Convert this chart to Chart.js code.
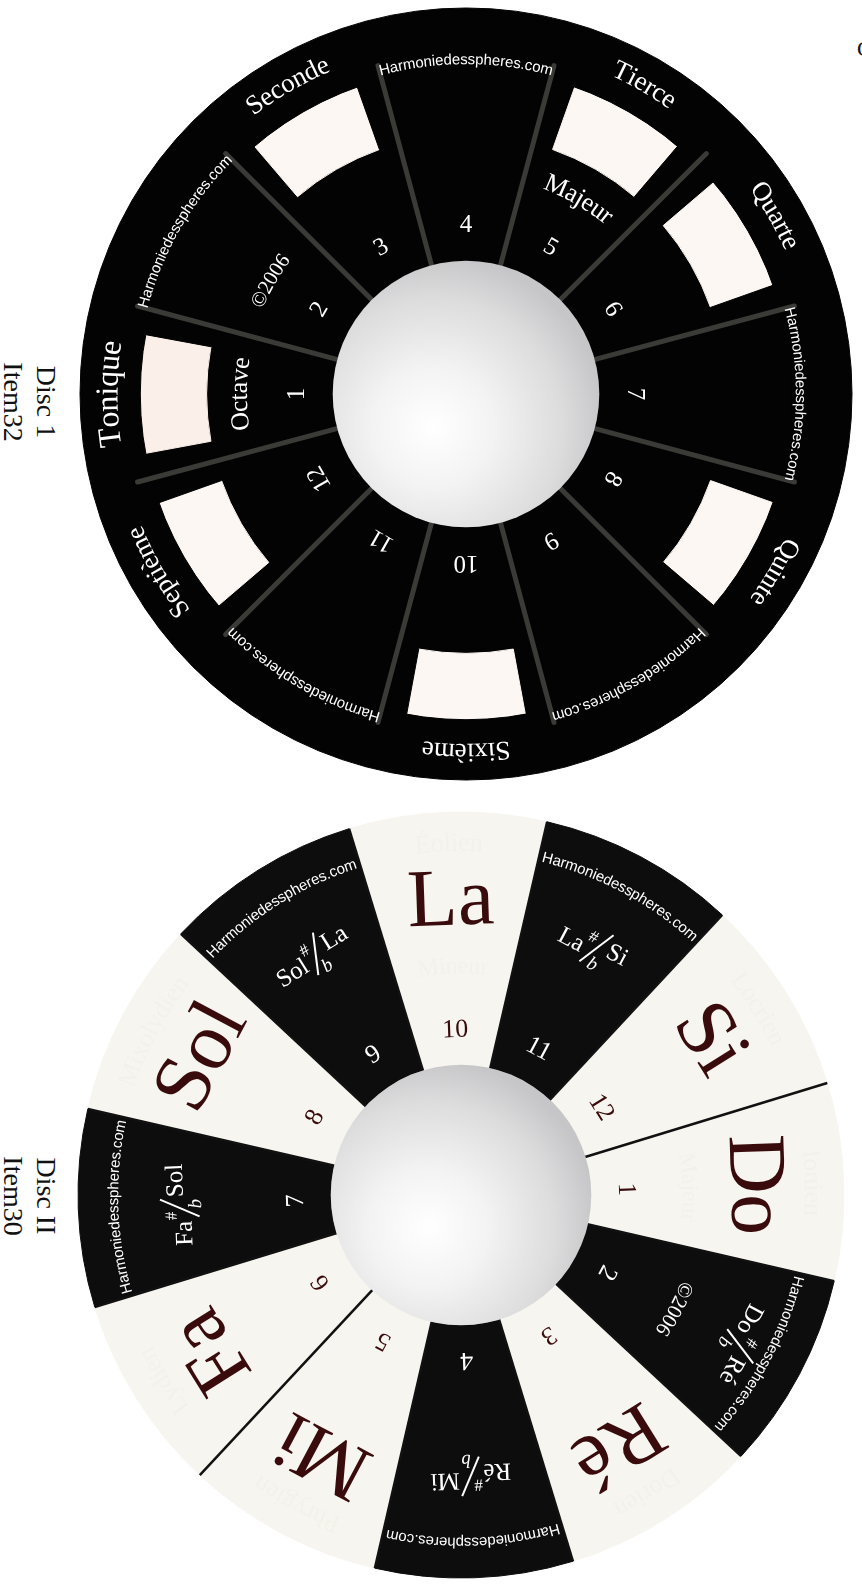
<!DOCTYPE html>
<html>
<head>
<meta charset="utf-8">
<script src="https://cdn.jsdelivr.net/npm/chart.js@4.4.1/dist/chart.umd.min.js"></script>
<style>
  body { margin: 0; background: #fff; width: 862px; height: 1585px; overflow: hidden; position: relative; font-family: "Liberation Serif", serif; }
  .disc { position: absolute; width: 780px; height: 780px; }
  #disc1 { left: 76px; top: 4px; }
  #disc2 { left: 71px; top: 805px; }
  .caption { position: absolute; width: 120px; height: 66px; font-size: 28px; line-height: 33px; text-align: center; color: #111; transform: rotate(90deg); }
  #cap1 { left: -30px; top: 369px; }
  #cap2 { left: -30px; top: 1163px; }
  #edge { position: absolute; left: 857px; top: 36px; font-size: 22px; color: #111; }
</style>
</head>
<body>
<div class="caption" id="cap1">Disc 1<br>Item32</div>
<div class="caption" id="cap2">Disc II<br>Item30</div>
<div id="edge">C</div>
<canvas id="disc1" class="disc" width="780" height="780"></canvas>
<canvas id="disc2" class="disc" width="780" height="780"></canvas>
<script>
// disc 1 : intervals
let steps = ["1", "2", "3", "4", "5", "6", "7", "8", "9", "10", "11", "12"];
let segmentValues = [1, 1, 1, 1, 1, 1, 1, 1, 1, 1, 1, 1];
let intervals = ["Tonique", "", "Seconde", "", "Tierce", "Quarte", "", "Quinte", "", "Sixième", "", "Septième"];
let innerWords = ["Octave", "©2006", "", "", "Majeur", "", "", "", "", "", "", ""];
let scaleSteps = [1, 0, 1, 0, 1, 1, 0, 1, 0, 1, 0, 1];
let windowSplit = [0.15, 0.7, 0.15];

// disc 2 : notes
let notes = ["Do", "", "Ré", "", "Mi", "Fa", "", "Sol", "", "La", "", "Si"];
let accidentals = [null, ["Do", "Ré"], null, ["Ré", "Mi"], null, null, ["Fa", "Sol"], null, ["Sol", "La"], null, ["La", "Si"], null];
let modes = ["Ionien", "", "Dorien", "", "Phrygien", "Lydien", "", "Mixolydien", "", "Éolien", "", "Locrien"];
let modeQuality = ["Majeur", "", "", "", "", "", "", "", "", "Mineur", "", ""];
let site = "Harmoniedesspheres.com";

const BLACK = "#030303";
const CREAM = "#fdf7f3";
const NOTE_BG = "#f6f5ef";
const NOTE_BLACK = "#0d0d0d";
const MAROON = "#3a0b0c";
const FAINT = "rgba(210,160,150,0.045)";
const SERIF = "'Liberation Serif', serif";
const SANS = "'Liberation Sans', sans-serif";

function radialText(ctx, txt, cx, cy, r, ang, font, color) {
  ctx.save();
  ctx.translate(cx + r * Math.cos(ang), cy + r * Math.sin(ang));
  ctx.rotate(ang + Math.PI / 2);
  ctx.font = font;
  ctx.fillStyle = color;
  ctx.textAlign = "center";
  ctx.textBaseline = "middle";
  ctx.fillText(txt, 0, 0);
  ctx.restore();
}

function arcText(ctx, txt, cx, cy, r, ang, font, color) {
  ctx.save();
  ctx.font = font;
  ctx.fillStyle = color;
  ctx.textAlign = "center";
  ctx.textBaseline = "middle";
  let chars = Array.from(txt);
  let widths = chars.map(ch => ctx.measureText(ch).width);
  let total = widths.reduce((s, w) => s + w, 0);
  let a = ang - total / 2 / r;
  chars.forEach((ch, i) => {
    let ca = a + widths[i] / 2 / r;
    ctx.save();
    ctx.translate(cx + r * Math.cos(ca), cy + r * Math.sin(ca));
    ctx.rotate(ca + Math.PI / 2);
    ctx.fillText(ch, 0, 0);
    ctx.restore();
    a += widths[i] / r;
  });
  ctx.restore();
}

function accidental(ctx, pair, cx, cy, r, ang) {
  ctx.save();
  ctx.translate(cx + r * Math.cos(ang), cy + r * Math.sin(ang));
  ctx.rotate(ang + Math.PI / 2);
  ctx.fillStyle = "#fff";
  ctx.strokeStyle = "#fff";
  ctx.textBaseline = "alphabetic";
  ctx.textAlign = "left";
  ctx.font = "25px " + SERIF;
  let wl = ctx.measureText(pair[0]).width;
  let wr = ctx.measureText(pair[1]).width;
  let g = 24;
  let x0 = -(wl + g + wr) / 2;
  ctx.fillText(pair[0], x0, 12);
  ctx.fillText(pair[1], x0 + wl + g, 4);
  ctx.font = "17px " + SERIF;
  ctx.fillText("#", x0 + wl + 1, -3);
  ctx.font = "italic 19px " + SERIF;
  ctx.fillText("b", x0 + wl + g - 12, 22);
  ctx.lineWidth = 2;
  ctx.beginPath();
  ctx.moveTo(x0 + wl + 4, 20);
  ctx.lineTo(x0 + wl + g - 2, -19);
  ctx.stroke();
  ctx.restore();
}

function drawHub(ctx, cx, cy, r) {
  let grad = ctx.createRadialGradient(cx - 0.25 * r, cy + 0.25 * r, 0, cx - 0.25 * r, cy + 0.25 * r, 1.3 * r);
  grad.addColorStop(0, "#ffffff");
  grad.addColorStop(0.35, "#f3f3f3");
  grad.addColorStop(0.75, "#dcdcdd");
  grad.addColorStop(1, "#c6c6c8");
  ctx.save();
  ctx.beginPath();
  ctx.arc(cx, cy, r + 0.5, 0, Math.PI * 2);
  ctx.fillStyle = grad;
  ctx.fill();
  ctx.restore();
}

const disc1Deco = {
  id: "disc1Deco",
  beforeDatasetsDraw(chart) {
    // black backing so the ring seams do not show
    const ctx = chart.ctx;
    const arc = chart.getDatasetMeta(0).data[0];
    ctx.save();
    ctx.beginPath();
    ctx.arc(arc.x, arc.y, arc.outerRadius - 1, 0, Math.PI * 2);
    ctx.fillStyle = BLACK;
    ctx.fill();
    ctx.restore();
  },
  afterDatasetsDraw(chart) {
    const ctx = chart.ctx;
    const ring = chart.getDatasetMeta(0).data;
    const core = chart.getDatasetMeta(2).data[0];
    const cx = core.x, cy = core.y;
    const rIn = core.innerRadius, rOut = ring[0].outerRadius;

    ctx.save();
    ctx.strokeStyle = "#3a3a37";
    ctx.lineWidth = 5;
    ctx.lineCap = "round";
    ring.forEach(arc => {
      let t = arc.startAngle;
      ctx.beginPath();
      ctx.moveTo(cx + (rIn - 2) * Math.cos(t), cy + (rIn - 2) * Math.sin(t));
      ctx.lineTo(cx + (rOut - 46) * Math.cos(t), cy + (rOut - 46) * Math.sin(t));
      ctx.stroke();
    });
    ctx.restore();

    drawHub(ctx, cx, cy, rIn);

    ring.forEach((arc, i) => {
      let mid = (arc.startAngle + arc.endAngle) / 2;
      radialText(ctx, steps[i], cx, cy, 169, mid, "25px " + SERIF, "#fff");
      if (intervals[i]) {
        let size = i === 0 ? 32 : 27;
        arcText(ctx, intervals[i], cx, cy, rOut - 29, mid, size + "px " + SERIF, "#fff");
      }
      if (innerWords[i]) {
        let size = innerWords[i] === "©2006" ? 21 : 26;
        arcText(ctx, innerWords[i], cx, cy, 226, mid, size + "px " + SERIF, "#fff");
      }
      if (!scaleSteps[i]) {
        arcText(ctx, site, cx, cy, rOut - 52, mid, "15px " + SANS, "#fff");
      }
    });
  }
};

const disc2Deco = {
  id: "disc2Deco",
  afterDatasetsDraw(chart) {
    const ctx = chart.ctx;
    const ring = chart.getDatasetMeta(0).data;
    const cx = ring[0].x, cy = ring[0].y;
    const rIn = ring[0].innerRadius, rOut = ring[0].outerRadius;

    ctx.save();
    ctx.strokeStyle = "#111";
    ctx.lineWidth = 2.5;
    ring.forEach(arc => {
      let t = arc.startAngle;
      ctx.beginPath();
      ctx.moveTo(cx + rIn * Math.cos(t), cy + rIn * Math.sin(t));
      ctx.lineTo(cx + rOut * Math.cos(t), cy + rOut * Math.sin(t));
      ctx.stroke();
    });
    ctx.restore();

    drawHub(ctx, cx, cy, rIn);

    ring.forEach((arc, i) => {
      let mid = (arc.startAngle + arc.endAngle) / 2;
      let light = notes[i] !== "";
      radialText(ctx, steps[i], cx, cy, 165, mid, "26px " + SERIF, light ? MAROON : "#fff");
      if (light) {
        radialText(ctx, notes[i], cx, cy, 292, mid, "82px " + SERIF, MAROON);
        arcText(ctx, modes[i], cx, cy, rOut - 32, mid, "26px " + SERIF, FAINT);
        if (modeQuality[i]) {
          arcText(ctx, modeQuality[i], cx, cy, 228, mid, "24px " + SERIF, FAINT);
        }
      } else {
        let accR = 282;
        if (i === 1) {
          accR = 318;
          arcText(ctx, "©2006", cx, cy, 242, mid, "21px " + SERIF, "#fff");
        }
        accidental(ctx, accidentals[i], cx, cy, accR, mid);
        arcText(ctx, site, cx, cy, rOut - 36, mid, "15px " + SANS, "#fff");
      }
    });
  }
};

function renderDisc1() {
  let windowValues = [];
  let windowColors = [];
  segmentValues.forEach((v, i) => {
    windowSplit.forEach((part, j) => {
      windowValues.push(v * part);
      if (j === 1 && scaleSteps[i]) {
        windowColors.push(i === 0 ? "#fbefea" : CREAM);
      } else {
        windowColors.push(BLACK);
      }
    });
  });
  let black = segmentValues.map(() => BLACK);

  new Chart(document.getElementById("disc1"), {
    type: "doughnut",
    data: {
      labels: steps,
      datasets: [
        { data: segmentValues, backgroundColor: black, borderColor: black, borderWidth: 1, weight: 60 },
        { data: windowValues, backgroundColor: windowColors, borderColor: windowColors, borderWidth: 1, weight: 66 },
        { data: segmentValues, backgroundColor: black, borderColor: black, borderWidth: 1, weight: 126 },
      ],
    },
    options: {
      responsive: false,
      animation: false,
      events: [],
      rotation: 255,
      radius: 386,
      cutout: 134,
      layout: { padding: 0 },
      plugins: { legend: { display: false }, tooltip: { enabled: false } },
    },
    plugins: [disc1Deco],
  });
}

function renderDisc2() {
  let colors = notes.map(n => (n ? NOTE_BG : NOTE_BLACK));
  new Chart(document.getElementById("disc2"), {
    type: "doughnut",
    data: {
      labels: steps,
      datasets: [
        { data: segmentValues, backgroundColor: colors, borderColor: colors, borderWidth: 1 },
      ],
    },
    options: {
      responsive: false,
      animation: false,
      events: [],
      rotation: 73,
      radius: 383,
      cutout: 132,
      layout: { padding: 0 },
      plugins: { legend: { display: false }, tooltip: { enabled: false } },
    },
    plugins: [disc2Deco],
  });
}

renderDisc1();
renderDisc2();
</script>
</body>
</html>
